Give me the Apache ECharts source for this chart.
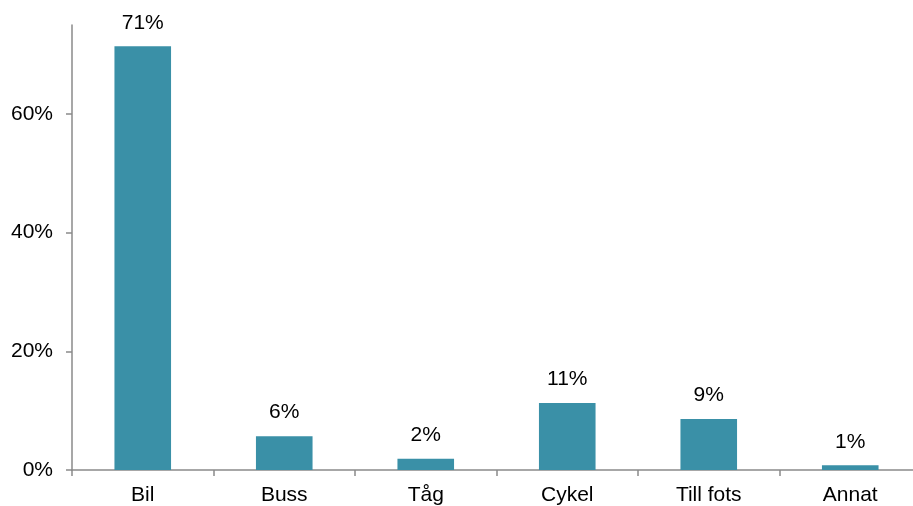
<!DOCTYPE html>
<html>
<head>
<meta charset="utf-8">
<script src="https://cdn.jsdelivr.net/npm/echarts@6/dist/echarts.min.js"></script>
<style>
  html, body { margin: 0; padding: 0; background: #fff; }
  #chart { width: 913px; height: 506px; }
</style>
</head>
<body>
<div id="chart"></div>
<script>
// Travel mode shares
const categories = ['Bil', 'Buss', 'Tåg', 'Cykel', 'Till fots', 'Annat'];
const shares = [0.714, 0.057, 0.019, 0.113, 0.086, 0.008];
const yTicks = [0, 0.2, 0.4, 0.6];

const axisGrey = '#8a8a8a';
const font = 'Liberation Sans, Arial, sans-serif';
const pct = v => Math.round(v * 100) + '%';

const chart = echarts.init(document.getElementById('chart'), null, { renderer: 'canvas' });
chart.setOption({
  animation: false,
  // plot area runs slightly past the right edge of the canvas
  grid: { left: 72, right: -8, top: 25, bottom: 36, containLabel: false, outerBoundsMode: 'none' },
  xAxis: {
    type: 'category',
    data: categories,
    boundaryGap: true,
    axisLine: { show: true, lineStyle: { color: axisGrey, width: 1.5 } },
    axisTick: { show: true, length: 6, lineStyle: { color: axisGrey, width: 1.5 } },
    axisLabel: { color: '#000', fontFamily: font, fontSize: 21, margin: 15 }
  },
  yAxis: {
    type: 'value',
    min: 0,
    max: 0.75,
    interval: 0.2,
    splitLine: { show: false },
    axisLine: { show: true, lineStyle: { color: axisGrey, width: 1.5 } },
    axisTick: { show: true, length: 6, customValues: yTicks, lineStyle: { color: axisGrey, width: 1.5 } },
    axisLabel: {
      customValues: yTicks,
      color: '#000', fontFamily: font, fontSize: 21, margin: 19,
      formatter: v => pct(v)
    }
  },
  series: [{
    type: 'bar',
    data: shares,
    barWidth: '40%',
    itemStyle: { color: '#3a90a7' },
    label: {
      show: true,
      position: 'top',
      distance: 13,
      color: '#000',
      fontFamily: font,
      fontSize: 21,
      formatter: p => pct(p.value)
    }
  }]
});
</script>
</body>
</html>
